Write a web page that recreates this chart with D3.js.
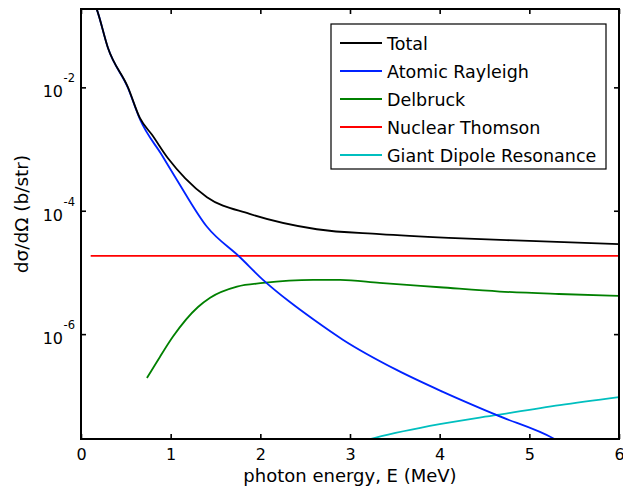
<!DOCTYPE html>
<html>
<head>
<meta charset="utf-8">
<script src="https://cdn.jsdelivr.net/npm/d3@7"></script>
<style>
  body { margin: 0; background: #fff; }
  svg text { font-family: "DejaVu Sans", sans-serif; fill: #000; }
</style>
</head>
<body>
<div id="chart"></div>
<script>
// photon energy (MeV) and cross sections (b/str)
var totalE = [0.145, 0.178, 0.301, 0.524, 0.658, 0.792, 0.970, 1.160, 1.405, 1.88, 2.63, 3.33, 4.10, 5.00, 6.00];
var totalV = [0.240, 0.180, 0.0434, 0.0100, 3.16e-3, 1.70e-3, 7.08e-4, 3.39e-4, 1.66e-4, 8.91e-5, 5.01e-5, 4.17e-5, 3.63e-5, 3.24e-5, 2.88e-5];

var rayleighE = [0.145, 0.178, 0.301, 0.524, 0.658, 0.903, 1.07, 1.405, 1.77, 2.03, 2.33, 2.59, 2.92, 3.52, 4.03, 4.63, 5.28, 5.40];
var rayleighV = [0.240, 0.180, 0.0434, 9.77e-3, 3.02e-3, 7.94e-4, 3.16e-4, 5.50e-5, 1.78e-5, 7.59e-6, 3.31e-6, 1.74e-6, 8.13e-7, 2.63e-7, 1.17e-7, 4.90e-8, 2.00e-8, 1.58e-8];

var delbruckE = [0.736, 0.88, 1.026, 1.305, 1.44, 1.74, 2.03, 2.59, 2.89, 3.33, 4.00, 4.67, 5.33, 6.00];
var delbruckV = [1.95e-7, 4.27e-7, 9.12e-7, 2.75e-6, 3.89e-6, 5.89e-6, 6.76e-6, 7.59e-6, 7.59e-6, 6.76e-6, 5.75e-6, 4.90e-6, 4.47e-6, 4.17e-6];

var thomsonE = [0.108, 6.00];
var thomsonV = [1.86e-5, 1.86e-5];

var gdrE = [3.20, 3.28, 4.00, 4.64, 5.34, 6.00];
var gdrV = [1.95e-8, 2.09e-8, 3.47e-8, 4.90e-8, 7.08e-8, 9.55e-8];

var seriesNames = ["Total", "Atomic Rayleigh", "Delbruck", "Nuclear Thomson", "Giant Dipole Resonance"];
var seriesColors = ["#000000", "#0022ff", "#008000", "#ff0000", "#00bfbf"];

var xTicks = [0, 1, 2, 3, 4, 5, 6];
var yTickExp = [-2, -4, -6];

var W = 623, H = 495;
var pLeft = 81, pRight = 619, pTop = 9, pBottom = 439;

var svg = d3.select("#chart").append("svg")
  .attr("width", W)
  .attr("height", H);

var x = d3.scaleLinear().domain([0, 6]).range([pLeft, pRight]);
var y = d3.scaleLog().domain([Math.pow(10, -7.70), Math.pow(10, -0.73)]).range([pBottom, pTop]);

svg.append("clipPath").attr("id", "plotclip")
  .append("rect")
  .attr("x", pLeft).attr("y", pTop)
  .attr("width", pRight - pLeft).attr("height", pBottom - pTop);

var line = d3.line()
  .x(function(d) { return x(d[0]); })
  .y(function(d) { return y(d[1]); })
  .curve(d3.curveMonotoneX);

var series = [
  d3.zip(totalE, totalV),
  d3.zip(rayleighE, rayleighV),
  d3.zip(delbruckE, delbruckV),
  d3.zip(thomsonE, thomsonV),
  d3.zip(gdrE, gdrV)
];

var plot = svg.append("g").attr("clip-path", "url(#plotclip)");
// draw back to front so Total sits on top
[4, 3, 2, 1, 0].forEach(function(i) {
  plot.append("path")
    .datum(series[i])
    .attr("d", line)
    .attr("fill", "none")
    .attr("stroke", seriesColors[i])
    .attr("stroke-width", 1.8)
    .attr("stroke-linejoin", "round");
});

// axes: ticks point inward on all four sides
var tickLen = 5;
svg.append("g")
  .attr("transform", "translate(0," + pBottom + ")")
  .call(d3.axisBottom(x).tickValues(xTicks).tickSize(-tickLen).tickPadding(10).tickFormat(d3.format("d")))
  .call(function(g) {
    g.select(".domain").remove();
    g.selectAll("text").attr("font-size", 16).attr("font-family", "DejaVu Sans");
  });
svg.append("g")
  .attr("transform", "translate(0," + pTop + ")")
  .call(d3.axisTop(x).tickValues(xTicks).tickSize(-tickLen).tickFormat(""))
  .call(function(g) { g.select(".domain").remove(); });

var yTickVals = yTickExp.map(function(e) { return Math.pow(10, e); });
svg.append("g")
  .attr("transform", "translate(" + pLeft + ",0)")
  .call(d3.axisLeft(y).tickValues(yTickVals).tickSize(-tickLen).tickFormat(""))
  .call(function(g) { g.select(".domain").remove(); });
svg.append("g")
  .attr("transform", "translate(" + pRight + ",0)")
  .call(d3.axisRight(y).tickValues(yTickVals).tickSize(-tickLen).tickFormat(""))
  .call(function(g) { g.select(".domain").remove(); });

svg.selectAll(".tick line").attr("stroke", "#000").attr("stroke-width", 1.6);

// y tick labels 10^n
yTickExp.forEach(function(e) {
  var yy = y(Math.pow(10, e));
  svg.append("text")
    .attr("x", 63).attr("y", yy + 10)
    .attr("text-anchor", "end")
    .attr("font-size", 16)
    .text("10");
  svg.append("text")
    .attr("x", 63.5).attr("y", yy - 5)
    .attr("font-size", 11.5)
    .text("-" + Math.abs(e));
});

// box
svg.append("rect")
  .attr("x", pLeft).attr("y", pTop)
  .attr("width", pRight - pLeft).attr("height", pBottom - pTop)
  .attr("fill", "none")
  .attr("stroke", "#000")
  .attr("stroke-width", 2);

// axis labels
svg.append("text")
  .attr("x", 350)
  .attr("y", 482)
  .attr("text-anchor", "middle")
  .attr("font-size", 18)
  .text("photon energy, E (MeV)");

svg.append("text")
  .attr("transform", "translate(28,214) rotate(-90)")
  .attr("text-anchor", "middle")
  .attr("font-size", 18.5)
  .text("d\u03c3/d\u03a9 (b/str)");

// legend
var legend = svg.append("g");
legend.append("rect")
  .attr("x", 331).attr("y", 24)
  .attr("width", 275).attr("height", 145)
  .attr("fill", "#fff")
  .attr("stroke", "#000")
  .attr("stroke-width", 1.2);

seriesNames.forEach(function(name, i) {
  var ly = 43 + i * 28;
  legend.append("line")
    .attr("x1", 340).attr("x2", 382)
    .attr("y1", ly).attr("y2", ly)
    .attr("stroke", seriesColors[i])
    .attr("stroke-width", 1.8);
  legend.append("text")
    .attr("x", 387).attr("y", ly + 6.5)
    .attr("font-size", 17.5)
    .text(name);
});
</script>
</body>
</html>
